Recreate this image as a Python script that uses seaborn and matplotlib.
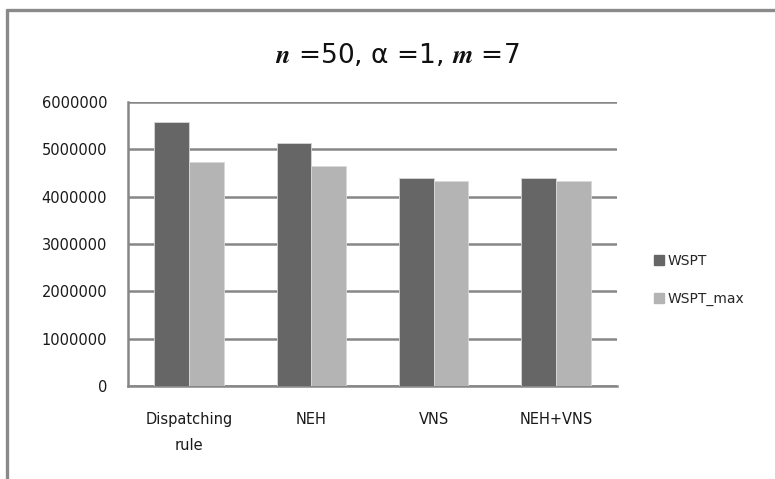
import matplotlib
matplotlib.use("Agg")
import matplotlib.pyplot as plt
from matplotlib.lines import Line2D
import pandas as pd
import seaborn as sns

# Objective values per solution method
methods = ["Dispatching\nrule", "NEH", "VNS", "NEH+VNS"]
wspt = [5570000, 5130000, 4390000, 4390000]
wspt_max = [4740000, 4640000, 4330000, 4330000]
series_names = ["WSPT", "WSPT_max"]
series_colors = ["#666666", "#b4b4b4"]
y_ticks = [0, 1000000, 2000000, 3000000, 4000000, 5000000, 6000000]

df = pd.DataFrame({
    "method": methods * 2,
    "value": wspt + wspt_max,
    "series": [series_names[0]] * len(methods) + [series_names[1]] * len(methods),
})

sns.set_theme(style="white")
plt.rcParams["font.family"] = ["DejaVu Sans"]
plt.rcParams["mathtext.fontset"] = "stix"

grid_color = "#878787"

fig = plt.figure(figsize=(7.75, 4.79), dpi=100)
ax = fig.add_axes([128 / 775, 93 / 479, 489 / 775, 284 / 479])

sns.barplot(data=df, x="method", y="value", hue="series",
            palette=series_colors, width=0.57, saturation=1,
            edgecolor="#d8d8d8", linewidth=0.6, ax=ax, legend=False, zorder=3)

ax.set_ylim(0, 6000000)
ax.set_yticks(y_ticks)
ax.set_yticklabels([str(v) for v in y_ticks], fontsize=10.5, color="#1a1a1a")
ax.set_xlim(-0.5, len(methods) - 0.5)
ax.tick_params(axis="x", labelsize=10.5, colors="#1a1a1a", pad=19, length=0)
ax.tick_params(axis="y", pad=15, length=0)
for lbl in ax.get_xticklabels():
    lbl.set_linespacing(1.9)
ax.set_xlabel("")
ax.set_ylabel("")

ax.yaxis.grid(True, color=grid_color, linewidth=1.8, zorder=0)
ax.set_axisbelow(True)
for side in ["top", "right"]:
    ax.spines[side].set_visible(False)
for side in ["left", "bottom"]:
    ax.spines[side].set_color(grid_color)
    ax.spines[side].set_linewidth(1.8)

# Title with italic bold variables
fig.text(397 / 775, 1 - 56 / 479,
         r"$\mathbfit{n}$ =50, α =1, $\mathbfit{m}$ =7",
         ha="center", va="center", fontsize=19, color="#111111")

# Legend on the right
handles = [Line2D([0], [0], marker="s", linestyle="", markersize=7,
                  markerfacecolor=c, markeredgecolor=c) for c in series_colors]
fig.legend(handles, series_names, loc="center left",
           bbox_to_anchor=(640 / 775, 1 - 280 / 479), frameon=False,
           fontsize=10, handletextpad=0.1, labelspacing=1.7, handlelength=1.0)

# Outer chart frame (top and left edges)
fig.add_artist(Line2D([7 / 775, 1.0], [1 - 9.5 / 479, 1 - 9.5 / 479],
                      transform=fig.transFigure, color="#8a8a8a", linewidth=2.4))
fig.add_artist(Line2D([7 / 775, 7 / 775], [0.0, 1 - 9.5 / 479],
                      transform=fig.transFigure, color="#8a8a8a", linewidth=2.4))

fig.savefig("out.png", dpi=100)
